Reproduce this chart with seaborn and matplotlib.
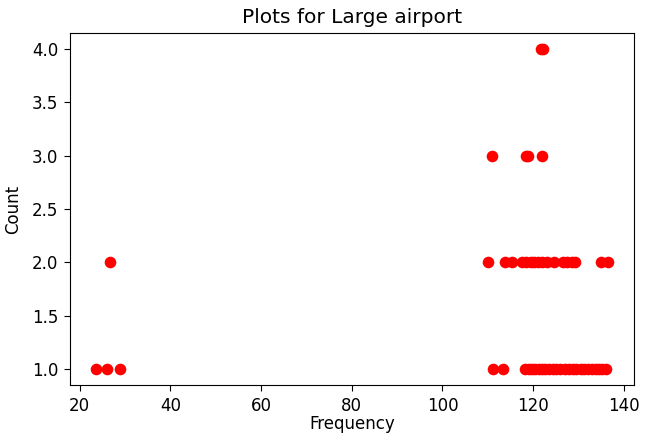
import numpy as np
import pandas as pd
import matplotlib
matplotlib.use("Agg")
import matplotlib.pyplot as plt
import seaborn as sns

# frequencies, grouped by count value
freq_count_1 = [23.5, 26.1, 28.8,
                111.1, 113.3,
                118.3, 119.0, 119.7, 120.5, 121.2, 122.0, 122.7, 123.5,
                124.3, 125.0, 126.0, 127.0, 128.0, 128.7, 129.5, 130.5,
                131.3, 132.0, 133.0, 133.8, 134.5, 135.3, 136.0]
freq_count_2 = [26.6,
                110.0, 113.9, 115.4, 117.6, 118.5, 119.5, 120.3, 121.0,
                122.0, 123.0, 124.5, 126.5, 127.5, 128.5, 129.3, 134.9, 136.6]
freq_count_3 = [111.0, 118.4, 118.8, 122.0]
freq_count_4 = [121.7, 122.1]

frequency = freq_count_1 + freq_count_2 + freq_count_3 + freq_count_4
count = ([1.0] * len(freq_count_1) + [2.0] * len(freq_count_2)
         + [3.0] * len(freq_count_3) + [4.0] * len(freq_count_4))

df = pd.DataFrame({"Frequency": frequency, "Count": count})

fig = plt.figure(figsize=(6.48, 4.34), dpi=100)
ax = fig.add_axes([70 / 648, 49 / 434, 564 / 648, 352 / 434])

sns.scatterplot(data=df, x="Frequency", y="Count", color="red",
                s=70, linewidth=0, ax=ax)

ax.set_xticks([20, 40, 60, 80, 100, 120, 140])
ax.set_yticks([1.0, 1.5, 2.0, 2.5, 3.0, 3.5, 4.0])
ax.set_yticklabels(["1.0", "1.5", "2.0", "2.5", "3.0", "3.5", "4.0"])
ax.tick_params(labelsize=12, length=4.2, pad=4.2)
ax.set_xlabel("Frequency", fontsize=12, labelpad=0.5)
ax.set_ylabel("Count", fontsize=12, labelpad=7)
ax.set_title("Plots for Large airport", fontsize=14.5, pad=7)

fig.savefig("out.png", dpi=100)
